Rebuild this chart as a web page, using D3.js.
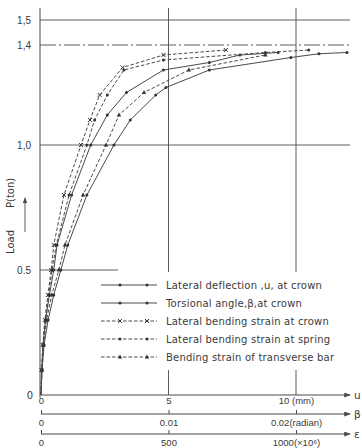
<!DOCTYPE html>
<html>
<head>
<meta charset="utf-8">
<script src="https://cdn.jsdelivr.net/npm/d3@7"></script>
<style>
  body { margin: 0; background: #fff; }
  svg { display: block; font-family: "DejaVu Sans", sans-serif; }
  text { fill: #3a3a3a; }
</style>
</head>
<body>
<svg id="chart" width="362" height="448"></svg>
<script>
// load levels (ton) and tick labels
const loadTicks = [0.5, 1.0, 1.4, 1.5]
const loadLabels = ['0.5', '1,0', '1,4', '1,5']
const uTicks = [0, 5, 10]
const uLabels = ['0', '5', '10  (mm)']
const betaTicks = [0, 0.01, 0.02]
const betaLabels = ['0', '0.01', '0.02(radian)']
const epsTicks = [0, 500, 1000]
const epsLabels = ['0', '500', '1000(\u00d710\u2076)']

// lateral deflection u at crown (mm)
const defLoad = [0, 0.1, 0.2, 0.3, 0.4, 0.5, 0.6, 0.8, 1.0, 1.1, 1.2, 1.23, 1.3, 1.35, 1.365, 1.37]
const defU = [0, 0.04, 0.12, 0.28, 0.5, 0.78, 1.05, 1.8, 2.86, 3.5, 4.5, 4.9, 6.6, 9.8, 10.9, 12.0]

// torsional angle beta at crown (radian)
const torLoad = [0, 0.1, 0.2, 0.3, 0.4, 0.5, 0.6, 0.8, 1.0, 1.12, 1.21, 1.3, 1.33, 1.36, 1.37]
const torBeta = [0, 0.00006, 0.00016, 0.00036, 0.00066, 0.001, 0.00126, 0.0024, 0.0039, 0.0052, 0.0067, 0.0096, 0.0132, 0.0156, 0.0186]

// strains (x10^-6)
const crownLoad = [0, 0.1, 0.2, 0.3, 0.4, 0.5, 0.6, 0.8, 1.0, 1.1, 1.2, 1.31, 1.36, 1.38]
const crownEps = [0, 2, 7, 15, 27, 40, 50, 90, 157, 192, 230, 320, 480, 725]
const springLoad = [0, 0.1, 0.2, 0.3, 0.4, 0.5, 0.6, 0.8, 1.0, 1.1, 1.2, 1.3, 1.34, 1.37, 1.38]
const springEps = [0, 3, 8, 17, 30, 43, 60, 110, 180, 210, 260, 325, 480, 880, 1050]
const barLoad = [0, 0.1, 0.2, 0.3, 0.4, 0.5, 0.6, 0.8, 1.0, 1.12, 1.21, 1.3, 1.36]
const barEps = [0, 4, 10, 22, 42, 70, 94, 165, 255, 306, 404, 580, 880]

const legendNames = [
    'Lateral deflection ,u, at crown',
    'Torsional angle,\u03b2,at crown',
    'Lateral bending strain at crown',
    'Lateral bending strain at spring',
    'Bending strain of transverse bar'
]

const ink = '#4a4a4a'
const svg = d3.select('#chart')

const y = d3.scaleLinear().domain([0, 1.5]).range([395, 20])
const xU = d3.scaleLinear().domain([0, 10]).range([41, 296])
const xB = d3.scaleLinear().domain([0, 0.02]).range([41, 296])
const xE = d3.scaleLinear().domain([0, 1000]).range([41, 296])
const xEnd = 350

svg.append('defs').append('marker')
    .attr('id', 'arr').attr('viewBox', '0 0 8 6')
    .attr('refX', 7).attr('refY', 3)
    .attr('markerWidth', 7).attr('markerHeight', 5)
    .attr('orient', 'auto')
    .append('path').attr('d', 'M0,0L8,3L0,6Z').attr('fill', ink)

// grid lines
const grid = svg.append('g').attr('stroke', ink).attr('stroke-width', 0.9).attr('fill', 'none')
grid.append('line').attr('x1', 40).attr('x2', xEnd).attr('y1', y(1.5)).attr('y2', y(1.5))
grid.append('line').attr('x1', 40).attr('x2', xEnd).attr('y1', y(1.0)).attr('y2', y(1.0))
grid.append('line').attr('x1', 40).attr('x2', 118).attr('y1', y(0.5)).attr('y2', y(0.5))
grid.append('line').attr('x1', 40).attr('x2', xEnd).attr('y1', y(1.4)).attr('y2', y(1.4))
    .attr('stroke-dasharray', '16,3,2,3')
uTicks.slice(1).forEach(v => {
    grid.append('line').attr('x1', xU(v)).attr('x2', xU(v)).attr('y1', 8).attr('y2', 272)
    grid.append('line').attr('x1', xU(v)).attr('x2', xU(v)).attr('y1', 370).attr('y2', y(0))
})

// y axis
const yAxis = svg.append('g').attr('transform', 'translate(40,0)')
    .call(d3.axisLeft(y).tickValues(loadTicks).tickSize(0).tickPadding(9)
        .tickFormat((d, i) => loadLabels[i]))
yAxis.select('.domain').remove()
yAxis.selectAll('text').attr('font-size', 10).attr('fill', '#3a3a3a')
svg.append('line').attr('x1', 40).attr('x2', 40).attr('y1', 8).attr('y2', 398)
    .attr('stroke', ink).attr('stroke-width', 1)
svg.append('text').attr('x', 33).attr('y', 399).attr('text-anchor', 'end')
    .attr('font-size', 10).text('0')

svg.append('text').attr('transform', 'translate(14,254) rotate(-90)')
    .attr('font-size', 10).text('Load')
svg.append('text').attr('transform', 'translate(14,208) rotate(-90)')
    .attr('font-size', 10).text('P(ton)')
svg.append('line').attr('x1', 25).attr('x2', 25).attr('y1', 232).attr('y2', 198)
    .attr('stroke', ink).attr('stroke-width', 0.9).attr('marker-end', 'url(#arr)')

// three horizontal axes
const axes = [
    { sc: xU, yy: 395, vals: uTicks, labs: uLabels, sym: 'u', tick: 0 },
    { sc: xB, yy: 414, vals: betaTicks, labs: betaLabels, sym: '\u03b2', tick: -4 },
    { sc: xE, yy: 434, vals: epsTicks, labs: epsLabels, sym: '\u03b5', tick: -4 }
]
axes.forEach(a => {
    const g = svg.append('g').attr('transform', `translate(0,${a.yy})`)
        .call(d3.axisBottom(a.sc).tickValues(a.vals).tickSizeInner(a.tick).tickSizeOuter(0)
            .tickPadding(a.tick ? 6 : 3).tickFormat((d, i) => a.labs[i]))
    g.select('.domain').remove()
    g.selectAll('line').attr('stroke', ink)
    g.selectAll('text').attr('font-size', 9.5).attr('fill', '#3a3a3a').attr('dy', '0.6em')
    g.append('line').attr('x1', a.sc.range()[0]).attr('x2', xEnd).attr('y1', 0).attr('y2', 0)
        .attr('stroke', ink).attr('stroke-width', 1).attr('marker-end', 'url(#arr)')
    svg.append('text').attr('x', 354).attr('y', a.yy + 4).attr('font-size', 10.5).text(a.sym)
})

// series
const series = [
    { load: defLoad, vals: defU, sc: xU, dash: null, mark: 'dot' },
    { load: torLoad, vals: torBeta, sc: xB, dash: null, mark: 'dot' },
    { load: crownLoad, vals: crownEps, sc: xE, dash: '3.5,2', mark: 'x' },
    { load: springLoad, vals: springEps, sc: xE, dash: '3.5,2', mark: 'dot' },
    { load: barLoad, vals: barEps, sc: xE, dash: '3.5,2', mark: 'tri' }
]

const drawMark = (g, kind, cx, cy) => {
    if (kind === 'dot') {
        g.append('circle').attr('cx', cx).attr('cy', cy).attr('r', 1.5).attr('fill', '#333')
    } else if (kind === 'x') {
        g.append('path').attr('d', `M${cx - 2},${cy - 2}L${cx + 2},${cy + 2}M${cx - 2},${cy + 2}L${cx + 2},${cy - 2}`)
            .attr('stroke', '#333').attr('stroke-width', 1)
    } else {
        g.append('path').attr('d', `M${cx},${cy - 2.4}L${cx + 2.2},${cy + 1.6}L${cx - 2.2},${cy + 1.6}Z`)
            .attr('fill', '#333')
    }
}

const line = d3.line().x(d => d[0]).y(d => d[1])
series.forEach(s => {
    const pts = s.vals.map((v, i) => [s.sc(v), y(s.load[i])])
    const g = svg.append('g')
    g.append('path').attr('d', line(pts)).attr('fill', 'none')
        .attr('stroke', ink).attr('stroke-width', 1)
        .attr('stroke-dasharray', s.dash)
    pts.slice(1).forEach(p => drawMark(g, s.mark, p[0], p[1]))
})

// legend
const leg = svg.append('g')
series.forEach((s, i) => {
    const ly = 285 + i * 18
    leg.append('line').attr('x1', 101).attr('x2', 157).attr('y1', ly).attr('y2', ly)
        .attr('stroke', ink).attr('stroke-width', 1).attr('stroke-dasharray', s.dash)
    drawMark(leg, s.mark, 120, ly)
    drawMark(leg, s.mark, 147, ly)
    leg.append('text').attr('x', 166).attr('y', ly + 3.5).attr('font-size', 10)
        .attr('letter-spacing', 0.2).text(legendNames[i])
})
</script>
</body>
</html>
